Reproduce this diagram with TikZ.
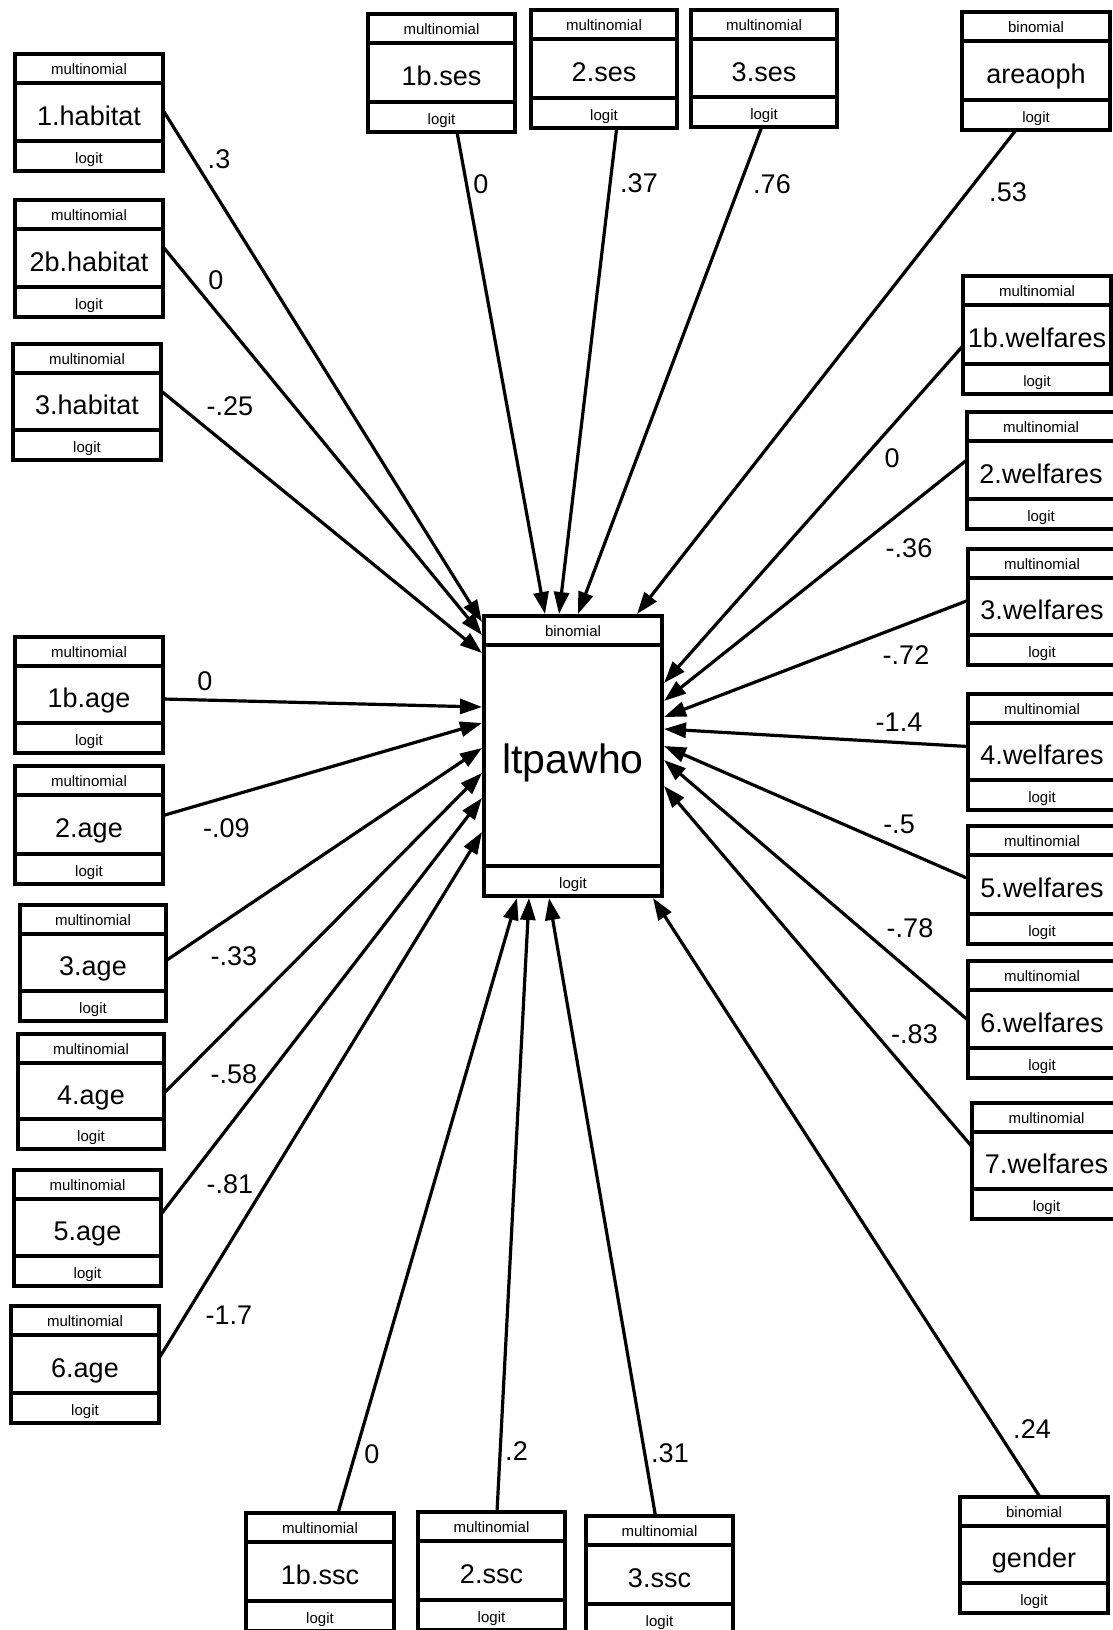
\documentclass[tikz,border=0pt]{standalone}
\usepackage{fontspec}
\setmainfont{Liberation Sans}
\usetikzlibrary{arrows.meta,calc}
\tikzset{
  boxline/.style={line width=4pt},
  bandtxt/.style={font=\fontsize{15}{18}\selectfont, inner sep=0pt, text height=11pt, text depth=0pt},
  maintxt/.style={font=\fontsize{27}{32}\selectfont, inner sep=0pt, text height=19.3pt, text depth=0pt},
  bigtxt/.style={font=\fontsize{41}{48}\selectfont, inner sep=0pt, text height=29.4pt, text depth=0pt},
  wlab/.style={font=\fontsize{27}{32}\selectfont, inner sep=0pt, text height=19.3pt, text depth=0pt},
  conn/.style={line width=3.2pt, -{Triangle[length=22pt,width=15pt]}},
  hull/.style={inner sep=0pt, outer sep=0pt},
}
\newcommand{\semvar}[9]{%
  \node[hull, minimum width={(#4-#2)*1pt}, minimum height={(#5-#3)*1pt}] (#1-all) at ({(#2+#4)/2},{-(#3+#5)/2}) {};
  \draw[boxline] (#2,-#3) rectangle (#4,-#5);
  \draw[boxline] (#2,{-(#3+29)}) -- (#4,{-(#3+29)});
  \draw[boxline] (#2,{-(#5-30)}) -- (#4,{-(#5-30)});
  \node[bandtxt] (#1-t) at ({(#2+#4)/2},{-(#3+15)}) {#6};
  \node[#9, minimum width={(#4-#2)*1pt}, minimum height={(#5-#3-59)*1pt}] (#1) at ({(#2+#4)/2},{-(#3+#5-1)/2}) {};
  \node[#9] (#1-lab) at ($(#1.center)+(0,-3.5)$) {#7};
  \node[bandtxt] (#1-b) at ({(#2+#4)/2},{-(#5-13)}) {#8};
}
\begin{document}
\begin{tikzpicture}[x=1pt,y=1pt]
\useasboundingbox (0,0) rectangle (1113,-1630);
% centre
\semvar{ctr}{484}{616}{662}{896}{binomial}{ltpawho}{logit}{bigtxt}
% left column
\semvar{hab1}{15}{54}{163}{171}{multinomial}{1.habitat}{logit}{maintxt}
\semvar{hab2b}{15}{200}{163}{317}{multinomial}{2b.habitat}{logit}{maintxt}
\semvar{hab3}{13}{344}{161}{460}{multinomial}{3.habitat}{logit}{maintxt}
\semvar{age1b}{15}{637}{163}{753}{multinomial}{1b.age}{logit}{maintxt}
\semvar{age2}{15}{766}{163}{884}{multinomial}{2.age}{logit}{maintxt}
\semvar{age3}{20}{905}{166}{1021}{multinomial}{3.age}{logit}{maintxt}
\semvar{age4}{18}{1034}{164}{1149}{multinomial}{4.age}{logit}{maintxt}
\semvar{age5}{14}{1170}{161}{1286}{multinomial}{5.age}{logit}{maintxt}
\semvar{age6}{11}{1306}{159}{1423}{multinomial}{6.age}{logit}{maintxt}
% top row
\semvar{ses1b}{368}{14}{515}{132}{multinomial}{1b.ses}{logit}{maintxt}
\semvar{ses2}{531}{10}{677}{128}{multinomial}{2.ses}{logit}{maintxt}
\semvar{ses3}{691}{10}{837}{127}{multinomial}{3.ses}{logit}{maintxt}
\semvar{area}{962}{12}{1110}{130}{binomial}{areaoph}{logit}{maintxt}
% right column
\semvar{welf1b}{963}{276}{1111}{394}{multinomial}{1b.welfares}{logit}{maintxt}
\semvar{welf2}{967}{412}{1115}{529}{multinomial}{2.welfares}{logit}{maintxt}
\semvar{welf3}{968}{549}{1116}{665}{multinomial}{3.welfares}{logit}{maintxt}
\semvar{welf4}{968}{694}{1116}{810}{multinomial}{4.welfares}{logit}{maintxt}
\semvar{welf5}{968}{826}{1116}{944}{multinomial}{5.welfares}{logit}{maintxt}
\semvar{welf6}{968}{961}{1116}{1078}{multinomial}{6.welfares}{logit}{maintxt}
\semvar{welf7}{972}{1103}{1121}{1219}{multinomial}{7.welfares}{logit}{maintxt}
% bottom row
\semvar{ssc1b}{246}{1513}{394}{1631}{multinomial}{1b.ssc}{logit}{maintxt}
\semvar{ssc2}{418}{1512}{565}{1630}{multinomial}{2.ssc}{logit}{maintxt}
\semvar{ssc3}{586}{1516}{733}{1634}{multinomial}{3.ssc}{logit}{maintxt}
\semvar{gender}{960}{1497}{1108}{1613}{binomial}{gender}{logit}{maintxt}
% connectors
\draw[conn] ($(hab1.east)+(0,1.5)$) -- ($(ctr-all.north west)+(-2,-6)$);
\draw[conn] ($(hab2b.east)+(0,11)$) -- ($(ctr-all.north west)+(-2,-19)$);
\draw[conn] ($(hab3.east)+(0,10.5)$) -- ($(ctr-all.north west)+(-2,-37)$);
\draw[conn] ($(age1b.east)+(0,-4.5)$) -- ($(ctr-all.north west)+(-2,-91)$);
\draw[conn] ($(age2.east)+(0,9)$) -- ($(ctr-all.north west)+(-2,-107)$);
\draw[conn] ($(age3.east)+(0,2)$) -- ($(ctr-all.north west)+(-2,-132)$);
\draw[conn] ($(age4.east)+(0,-2)$) -- ($(ctr-all.north west)+(-2,-157)$);
\draw[conn] ($(age5.east)+(0,13.5)$) -- ($(ctr-all.north west)+(-2,-182)$);
\draw[conn] ($(age6.east)+(0,6)$) -- ($(ctr-all.north west)+(-2,-216)$);
\draw[conn] ($(ses1b-all.south)+(15.5,0)$) -- ($(ctr-all.north west)+(61,2)$);
\draw[conn] ($(ses2-all.south)+(12.7,0)$) -- ($(ctr-all.north west)+(75,2)$);
\draw[conn] ($(ses3-all.south)+(-2.3,0)$) -- ($(ctr-all.north west)+(94,2)$);
\draw[conn] ($(area-all.south)+(-20,0)$) -- ($(ctr-all.north west)+(153,2)$);
\draw[conn] ($(welf1b.west)+(0,-11.5)$) -- ($(ctr-all.north east)+(2,-67)$);
\draw[conn] ($(welf2.west)+(0,10)$) -- ($(ctr-all.north east)+(2,-85)$);
\draw[conn] ($(welf3.west)+(0,6)$) -- ($(ctr-all.north east)+(2,-101)$);
\draw[conn] ($(welf4.west)+(0,5)$) -- ($(ctr-all.north east)+(2,-113)$);
\draw[conn] ($(welf5.west)+(0,6)$) -- ($(ctr-all.north east)+(2,-130)$);
\draw[conn] ($(welf6.west)+(0,-1)$) -- ($(ctr-all.north east)+(2,-144)$);
\draw[conn] ($(welf7.west)+(0,14)$) -- ($(ctr-all.north east)+(2,-170)$);
\draw[conn] ($(ssc1b-all.north)+(18,0)$) -- ($(ctr-all.south west)+(33,-2)$);
\draw[conn] ($(ssc2-all.north)+(5.5,0)$) -- ($(ctr-all.south west)+(45,-2)$);
\draw[conn] ($(ssc3-all.north)+(-4,0)$) -- ($(ctr-all.south west)+(65,-2)$);
\draw[conn] ($(gender-all.north)+(6,0)$) -- ($(ctr-all.south west)+(169,-2)$);
% path coefficients
\node[wlab] (c-hab1) at (219,-159) {.3};
\node[wlab] (c-hab2b) at (216,-280) {0};
\node[wlab] (c-hab3) at (230,-406) {-.25};
\node[wlab] (c-age1b) at (205,-681) {0};
\node[wlab] (c-age2) at (226.5,-828) {-.09};
\node[wlab] (c-age3) at (234,-956) {-.33};
\node[wlab] (c-age4) at (234,-1073.5) {-.58};
\node[wlab] (c-age5) at (230,-1184) {-.81};
\node[wlab] (c-age6) at (229,-1315) {-1.7};
\node[wlab] (c-ses1b) at (481,-184) {0};
\node[wlab] (c-ses2) at (639,-183) {.37};
\node[wlab] (c-ses3) at (772,-184) {.76};
\node[wlab] (c-area) at (1008,-192) {.53};
\node[wlab] (c-welf1b) at (892,-458) {0};
\node[wlab] (c-welf2) at (909,-548) {-.36};
\node[wlab] (c-welf3) at (906,-655) {-.72};
\node[wlab] (c-welf4) at (899,-722) {-1.4};
\node[wlab] (c-welf5) at (899,-824) {-.5};
\node[wlab] (c-welf6) at (910,-928) {-.78};
\node[wlab] (c-welf7) at (914.5,-1034) {-.83};
\node[wlab] (c-ssc1b) at (372,-1454) {0};
\node[wlab] (c-ssc2) at (516.5,-1451) {.2};
\node[wlab] (c-ssc3) at (670,-1453) {.31};
\node[wlab] (c-gender) at (1032,-1429) {.24};
\end{tikzpicture}
\end{document}
